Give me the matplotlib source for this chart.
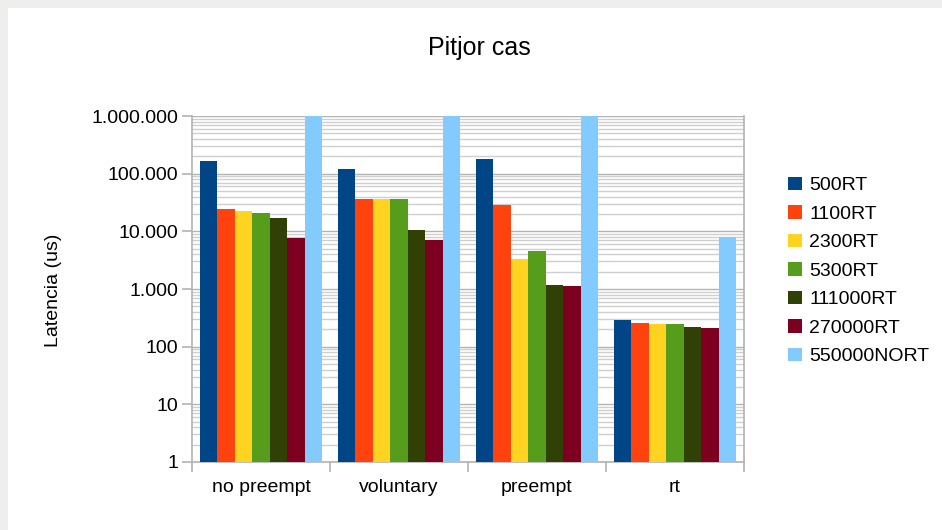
import matplotlib
matplotlib.use("Agg")
import matplotlib.pyplot as plt
import numpy as np
from matplotlib.ticker import FuncFormatter, LogLocator, FixedLocator, NullFormatter
from matplotlib.patches import Rectangle

plt.rcParams['font.family'] = ['Liberation Sans', 'DejaVu Sans']

categories = ["no preempt", "voluntary", "preempt", "rt"]
series_names = ["500RT", "1100RT", "2300RT", "5300RT", "111000RT", "270000RT", "550000NORT"]
v_500RT = [165000, 120000, 178000, 292]
v_1100RT = [24300, 36000, 28400, 256]
v_2300RT = [22400, 36000, 3300, 246]
v_5300RT = [20700, 36000, 4550, 246]
v_111000RT = [16900, 10500, 1170, 219]
v_270000RT = [7700, 7000, 1120, 210]
v_550000NORT = [1000000, 1000000, 1000000, 7840]
series_values = [v_500RT, v_1100RT, v_2300RT, v_5300RT, v_111000RT, v_270000RT, v_550000NORT]
colors = ["#004586", "#ff420e", "#ffd320", "#579d1c", "#314004", "#7e0021", "#83caff"]

fig = plt.figure(figsize=(9.42, 5.30), dpi=100)
fig.patch.set_facecolor("#eeeeec")
fig.patches.append(Rectangle((8/942, 0), 1, 1 - 8/530, transform=fig.transFigure,
                             facecolor="white", edgecolor="none", zorder=-10))

ax = fig.add_axes([192/942, 68/530, 552/942, 346/530])
ax.set_facecolor("white")

n = len(series_names)
x = np.arange(len(categories))
group_w = 0.885
bw = group_w / n
for i, (name, vals, c) in enumerate(zip(series_names, series_values, colors)):
    offs = -group_w/2 + bw*(i + 0.5)
    ax.bar(x + offs, vals, width=bw, color=c, label=name, zorder=3, linewidth=0)

ax.set_yscale("log")
ax.set_ylim(1, 1e6)
ax.set_xlim(-0.5, len(categories) - 0.5)

ax.yaxis.set_major_locator(LogLocator(base=10, numticks=10))
ax.yaxis.set_minor_locator(LogLocator(base=10, subs=np.arange(2, 10), numticks=100))
ax.yaxis.set_minor_formatter(NullFormatter())
def fmt(v, pos):
    return "{:,}".format(int(round(v))).replace(",", ".")
ax.yaxis.set_major_formatter(FuncFormatter(fmt))

ax.grid(which="major", axis="y", color="#b3b3b3", linewidth=1.0, zorder=0)
ax.grid(which="minor", axis="y", color="#cfcfcf", linewidth=1.0, zorder=0)

ax.set_xticks(x)
ax.set_xticklabels(categories)
ax.xaxis.set_minor_locator(FixedLocator(np.arange(-0.5, len(categories) + 0.5, 1.0)))
ax.tick_params(axis="x", which="major", length=0, labelsize=14, pad=12)
ax.tick_params(axis="x", which="minor", length=7, color="#b3b3b3", width=1.2)
ax.tick_params(axis="y", which="major", length=7, color="#b3b3b3", width=1.2, labelsize=14, pad=3)
ax.tick_params(axis="y", which="minor", length=0)

for s in ["left", "bottom", "right"]:
    ax.spines[s].set_color("#b3b3b3")
    ax.spines[s].set_linewidth(1.2)
ax.spines["top"].set_visible(False)

fig.text(53/942, (530-290)/530, "Latencia (us)", rotation=90, ha="center", va="center", fontsize=14)
fig.text(479/942, (530-48)/530, "Pitjor cas", ha="center", va="center", fontsize=18)

leg = fig.legend(loc="center left", bbox_to_anchor=(788/942, (530-271)/530), frameon=False,
                 fontsize=14, handlelength=0.7, handleheight=0.7, handletextpad=0.4,
                 labelspacing=0.56, borderpad=0, borderaxespad=0)

fig.savefig("out.png", dpi=100, facecolor=fig.get_facecolor())
